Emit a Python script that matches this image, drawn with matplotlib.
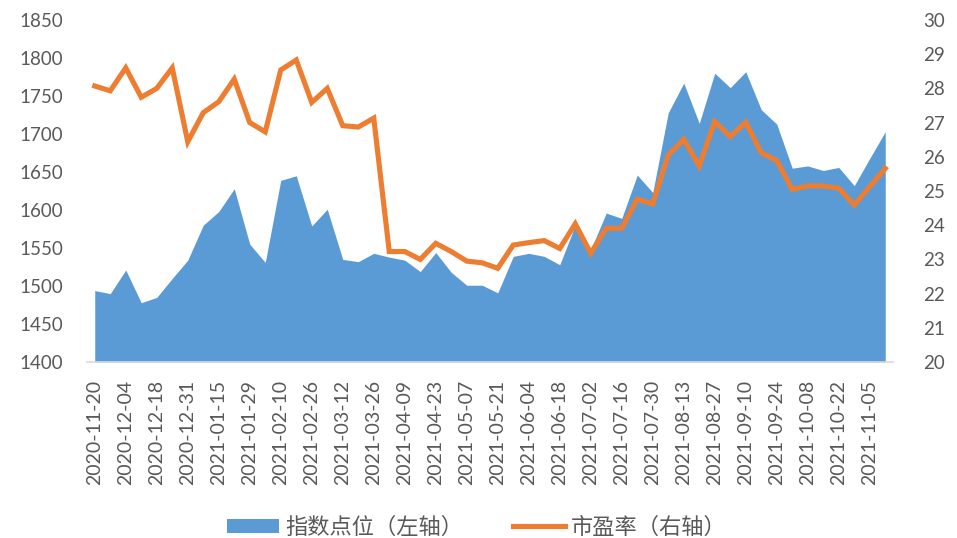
import matplotlib
matplotlib.use("Agg")
import matplotlib.pyplot as plt
from matplotlib.patches import Patch
from matplotlib.lines import Line2D

plt.rcParams['font.family'] = ['Lato', 'Noto Sans CJK SC', 'DejaVu Sans']

dates = ["2020-11-20", "2020-11-27", "2020-12-04", "2020-12-11", "2020-12-18", "2020-12-25",
         "2020-12-31", "2021-01-08", "2021-01-15", "2021-01-22", "2021-01-29", "2021-02-05",
         "2021-02-10", "2021-02-19", "2021-02-26", "2021-03-05", "2021-03-12", "2021-03-19",
         "2021-03-26", "2021-04-02", "2021-04-09", "2021-04-16", "2021-04-23", "2021-04-30",
         "2021-05-07", "2021-05-14", "2021-05-21", "2021-05-28", "2021-06-04", "2021-06-11",
         "2021-06-18", "2021-06-25", "2021-07-02", "2021-07-09", "2021-07-16", "2021-07-23",
         "2021-07-30", "2021-08-06", "2021-08-13", "2021-08-20", "2021-08-27", "2021-09-03",
         "2021-09-10", "2021-09-17", "2021-09-24", "2021-09-30", "2021-10-08", "2021-10-15",
         "2021-10-22", "2021-10-29", "2021-11-05", "2021-11-12"]

index_points = [1494, 1490, 1521, 1478, 1485, 1510, 1534, 1580, 1598, 1628,
                1555, 1531, 1639, 1645, 1579, 1601, 1535, 1532, 1543, 1538,
                1534, 1519, 1544, 1518, 1501, 1501, 1491, 1539, 1543, 1539,
                1528, 1580, 1548, 1596, 1589, 1646, 1623, 1728, 1767, 1714,
                1780, 1761, 1782, 1732, 1713, 1655, 1658, 1652, 1656, 1632,
                1668, 1703]

pe_ratio = [28.07, 27.93, 28.60, 27.74, 28.00, 28.60, 26.44, 27.29, 27.61, 28.27,
            27.00, 26.73, 28.54, 28.83, 27.59, 28.00, 26.91, 26.87, 27.13, 23.23,
            23.23, 23.00, 23.47, 23.23, 22.95, 22.90, 22.74, 23.42, 23.49, 23.55,
            23.32, 24.04, 23.18, 23.91, 23.91, 24.76, 24.62, 26.05, 26.51, 25.73,
            27.03, 26.59, 27.01, 26.12, 25.89, 25.05, 25.15, 25.15, 25.08, 24.59,
            25.13, 25.66]

label_area = "指数点位（左轴）"
label_line = "市盈率（右轴）"

blue = "#5B9BD5"
orange = "#ED7D31"
gray_text = "#595959"

fig = plt.figure(figsize=(9.57, 5.38), dpi=100)
ax = fig.add_axes([87 / 957, 1 - 362 / 538, (893 - 87) / 957, (362 - 20) / 538])
ax2 = ax.twinx()

x = list(range(len(dates)))
ax.fill_between(x, 1400, index_points, color=blue, linewidth=0, zorder=1)
ax2.plot(x, pe_ratio, color=orange, linewidth=3.7, solid_joinstyle='miter', zorder=3)

ax.set_xlim(-0.5, len(dates) - 0.5)
ax.set_ylim(1400, 1850)
ax.set_yticks(list(range(1400, 1851, 50)))
ax2.set_ylim(20, 30)
ax2.set_yticks(list(range(20, 31, 1)))

ax.set_xticks(x[::2])
ax.set_xticklabels(dates[::2], rotation=90, fontsize=14, color=gray_text)
ax.tick_params(axis='x', length=0, pad=13)
ax.tick_params(axis='y', length=0, pad=17, labelsize=13.5, labelcolor=gray_text)
ax2.tick_params(axis='y', length=0, pad=22, labelsize=13.5, labelcolor=gray_text)

for a in (ax, ax2):
    for s in ('top', 'left', 'right', 'bottom'):
        a.spines[s].set_visible(False)
ax.spines['bottom'].set_visible(True)
ax.spines['bottom'].set_color("#D9D9D9")
ax.spines['bottom'].set_linewidth(1.2)

handles = [Patch(facecolor=blue, edgecolor='none', label=label_area),
           Line2D([0], [0], color=orange, linewidth=3.7, label=label_line)]
leg = fig.legend(handles=handles, loc='center', bbox_to_anchor=(477 / 957, 1 - 527 / 538),
                 ncol=2, frameon=False, fontsize=16, handlelength=2.35, handleheight=0.6,
                 columnspacing=2.25, handletextpad=0.27, borderpad=0, borderaxespad=0)
for t in leg.get_texts():
    t.set_color(gray_text)

fig.savefig("out.png", dpi=100)
